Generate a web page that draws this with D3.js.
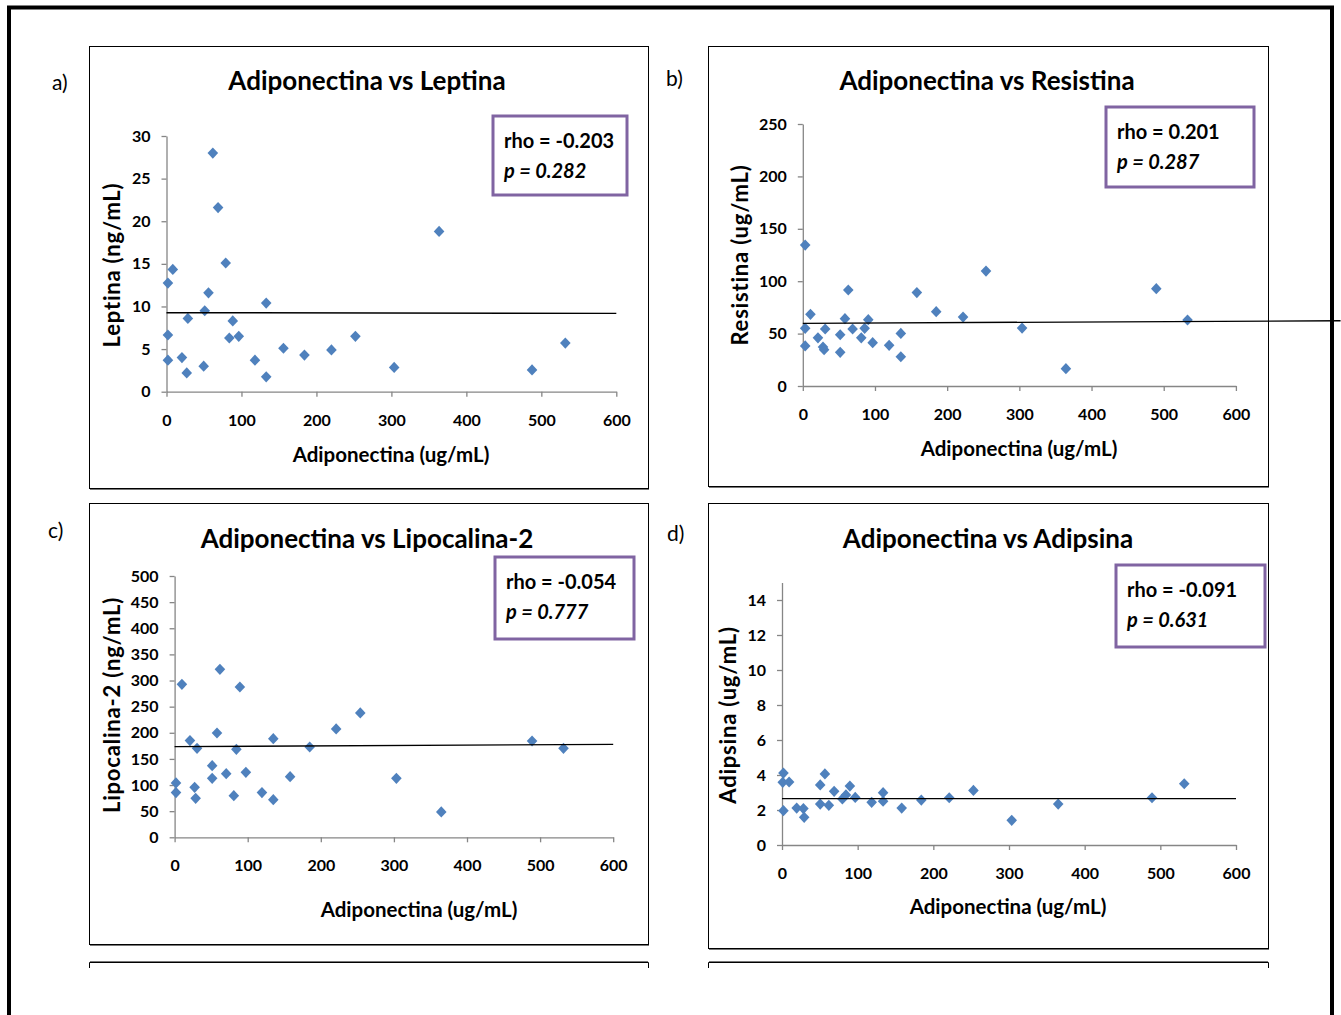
<!DOCTYPE html>
<html>
<head>
<meta charset="utf-8">
<script src="https://cdn.jsdelivr.net/npm/d3@7"></script>
<style>
body { margin: 0; background: #fff; }
svg { display: block; }
text { font-family: Lato, "Open Sans", sans-serif; fill: #000; }
</style>
</head>
<body>
<div id="rootDiv"></div>
<script>
const width = 1341
const height = 1015

// x: Adiponectina (ug/mL)
const leptinaX = [61.8, 68.8, 8.4, 1.9, 79, 56, 133, 51, 28.5, 88.4, 1.9, 83.8, 96.4, 252, 532, 156, 220, 184, 20.6, 1.9, 118, 49.6, 303.7, 27, 133, 487.6, 363.6]
const leptinaY = [28.0, 21.6, 14.35, 12.75, 15.1, 11.6, 10.4, 9.5, 8.6, 8.3, 6.65, 6.3, 6.5, 6.5, 5.7, 5.1, 4.9, 4.3, 4.0, 3.7, 3.7, 3.0, 2.85, 2.2, 1.75, 2.55, 18.8]

const resistinaX = [3.3, 10.6, 3.3, 3.3, 21, 31, 28, 29.5, 51.8, 51.8, 58.4, 63, 69, 81, 85.7, 90.7, 96.8, 119.6, 135.8, 135.8, 158, 184.8, 222, 253.8, 303.8, 364.5, 489.7, 533]
const resistinaY = [134.5, 68.4, 55, 38.2, 46, 54.4, 37.2, 34.7, 32.1, 48.9, 64.2, 91.6, 54.4, 46, 55, 63.3, 41.3, 38.8, 50.2, 27.9, 89.1, 70.9, 65.8, 109.7, 55.3, 16.5, 92.9, 63]

const lipocalinaX = [10, 62, 89.3, 254, 221, 21, 58, 135, 30.7, 84.5, 184.8, 489, 532, 51.4, 70.6, 97.5, 51.4, 158, 303.4, 1.9, 1.9, 27.4, 28.8, 81, 119.5, 135, 364.8]
const lipocalinaY = [292.7, 321.4, 287.6, 237.9, 207.3, 185, 199.6, 188.8, 170.3, 168.4, 172.8, 184.3, 170.3, 137.1, 121.8, 124.4, 112.9, 116.1, 112.9, 104, 85.5, 95.7, 74.6, 79.7, 85.5, 72, 48.5]

const adipsinaX = [1.9, 1, 9.4, 1.9, 19.4, 28.3, 29.3, 50.5, 50.5, 56.7, 61.9, 68.9, 79.8, 84.5, 89.7, 96.8, 118.5, 133.6, 133.6, 158.2, 184.1, 221, 253, 303.6, 365, 489, 531.6]
const adipsinaY = [4.11, 3.58, 3.6, 1.96, 2.11, 2.08, 1.58, 3.43, 2.34, 4.06, 2.27, 3.07, 2.63, 2.86, 3.37, 2.72, 2.44, 2.99, 2.5, 2.11, 2.57, 2.7, 3.12, 1.41, 2.34, 2.7, 3.5]

// trend lines: [x0, x1] and [y0, y1] (panel b runs past its frame in the original)
const trendX = [[0, 600], [0, 745], [0, 600], [0, 600]]
const trendY = [[9.27, 9.19], [59.8, 62.2], [173.5, 177.9], [2.65, 2.65]]

const tags = ["a)", "b)", "c)", "d)"]
const titles = ["Adiponectina vs Leptina", "Adiponectina vs Resistina", "Adiponectina vs Lipocalina-2", "Adiponectina vs Adipsina"]
const yLabels = ["Leptina (ng/mL)", "Resistina (ug/mL)", "Lipocalina-2 (ng/mL)", "Adipsina (ug/mL)"]
const xLabel = "Adiponectina (ug/mL)"
const rhoValues = ["-0.203", "0.201", "-0.054", "-0.091"]
const pValues = ["0.282", "0.287", "0.777", "0.631"]
const yMax = [30, 250, 500, 15]
const yTicks = [d3.range(0, 31, 5), d3.range(0, 251, 50), d3.range(0, 501, 50), d3.range(0, 15, 2)]
const xTicks = d3.range(0, 601, 100)

const blue = "#4F81BD"
const purple = "#8064A2"
const axisGrey = "#868686"

// where each panel sits on the page
const layout = [
    { frame: [89, 46, 559, 442], xr: [166.5, 616.3], yr: [391.7, 136], tag: [52, 90], title: [367, 90], box: [493, 116, 134, 79], xlab: [391, 462], ylab: [120, 265] },
    { frame: [708, 46, 560, 440], xr: [802.8, 1235.9], yr: [386, 124], tag: [666, 86], title: [987, 90], box: [1106, 107, 148, 80], xlab: [1019, 456], ylab: [748, 255] },
    { frame: [89, 503, 559, 441], xr: [174.6, 613.2], yr: [837.3, 576], tag: [48, 538], title: [367, 548], box: [495, 557, 139, 82], xlab: [419, 917], ylab: [120, 705] },
    { frame: [708, 503, 560, 445], xr: [782, 1236], yr: [845, 582.5], tag: [667, 541], title: [988, 548], box: [1116, 565, 149, 82], xlab: [1008, 914], ylab: [736, 715] },
]

const panelData = [
    [leptinaX, leptinaY],
    [resistinaX, resistinaY],
    [lipocalinaX, lipocalinaY],
    [adipsinaX, adipsinaY],
]

const svg = d3.select("#rootDiv")
    .append("svg")
    .attr("width", width)
    .attr("height", height)

svg.append("rect").attr("width", width).attr("height", height).attr("fill", "#fff")

// panel frames
function drawFrame(x, y, w, h) {
    svg.append("rect")
        .attr("x", x + 0.5).attr("y", y + 0.5)
        .attr("width", w).attr("height", h)
        .attr("fill", "#fff")
        .attr("stroke", "#000")
        .attr("stroke-width", 1)
    svg.append("line")
        .attr("x1", x + 1).attr("x2", x + w + 1)
        .attr("y1", y + h + 1.5).attr("y2", y + h + 1.5)
        .attr("stroke", "#777")
        .attr("stroke-width", 1.2)
}
layout.forEach(l => drawFrame(...l.frame))

// tops of the next row of frames, cut off in the original
for (const [x, w] of [[89, 559], [708, 560]]) {
    svg.append("path")
        .attr("d", `M${x + 0.5},968V962.5H${x + w + 0.5}V968`)
        .attr("fill", "none")
        .attr("stroke", "#000")
        .attr("stroke-width", 1)
    svg.append("line")
        .attr("x1", x + 1).attr("x2", x + w)
        .attr("y1", 961.5).attr("y2", 961.5)
        .attr("stroke", "#777")
        .attr("stroke-width", 1)
}

const diamond = "M0,-5.6L5.3,0L0,5.6L-5.3,0Z"

function drawPanel(i) {
    const l = layout[i]
    const [xs, ys] = panelData[i]

    const x = d3.scaleLinear().domain([0, 600]).range(l.xr)
    const y = d3.scaleLinear().domain([0, yMax[i]]).range(l.yr)
    const g = svg.append("g")

    // tag a) b) ...
    g.append("text")
        .attr("x", l.tag[0]).attr("y", l.tag[1])
        .style("font-size", "21px")
        .text(tags[i])

    g.append("text")
        .attr("x", l.title[0]).attr("y", l.title[1])
        .attr("text-anchor", "middle")
        .style("font-size", "26px").style("font-weight", "bold")
        .text(titles[i])

    // axes
    const xAxis = g.append("g")
        .attr("transform", `translate(0,${l.yr[0]})`)
        .call(d3.axisBottom(x).tickValues(xTicks).tickSize(5).tickSizeOuter(0).tickFormat(d3.format("d")))
    const yAxis = g.append("g")
        .attr("transform", `translate(${l.xr[0]},0)`)
        .call(d3.axisLeft(y).tickValues(yTicks[i]).tickSize(5).tickSizeOuter(0).tickFormat(d3.format("d")))

    for (const ax of [xAxis, yAxis]) {
        ax.select(".domain").attr("stroke", axisGrey).attr("stroke-width", 1.3)
        ax.selectAll(".tick line").attr("stroke", axisGrey).attr("stroke-width", 1.3)
        ax.selectAll(".tick text")
            .style("font-family", "Lato, sans-serif")
            .style("font-size", "16px")
            .style("font-weight", "bold")
            .attr("fill", "#000")
    }
    xAxis.selectAll(".tick text").attr("y", 0).attr("dy", 0).attr("transform", "translate(0,34)")
    yAxis.selectAll(".tick text").attr("x", -16)

    // axis titles
    g.append("text")
        .attr("x", l.xlab[0]).attr("y", l.xlab[1])
        .attr("text-anchor", "middle")
        .style("font-size", "20.5px").style("font-weight", "bold")
        .text(xLabel)

    g.append("text")
        .attr("transform", `translate(${l.ylab[0]},${l.ylab[1]}) rotate(-90)`)
        .attr("text-anchor", "middle")
        .style("font-size", "22px").style("font-weight", "bold")
        .style("letter-spacing", "0.8px")
        .text(yLabels[i])

    // points
    g.append("g").selectAll("path")
        .data(xs.map((v, j) => [v, ys[j]]))
        .join("path")
        .attr("d", diamond)
        .attr("transform", d => `translate(${x(d[0])},${y(d[1])})`)
        .attr("fill", blue)

    // trend line
    g.append("line")
        .attr("x1", x(trendX[i][0])).attr("x2", x(trendX[i][1]))
        .attr("y1", y(trendY[i][0])).attr("y2", y(trendY[i][1]))
        .attr("stroke", "#000")
        .attr("stroke-width", 1.4)

    // rho / p box
    const [bx, by, bw, bh] = l.box
    g.append("rect")
        .attr("x", bx).attr("y", by).attr("width", bw).attr("height", bh)
        .attr("fill", "#fff")
        .attr("stroke", purple)
        .attr("stroke-width", 3)
    g.append("text")
        .attr("x", bx + 11).attr("y", by + 32)
        .style("font-size", "20px").style("font-weight", "bold")
        .text(`rho = ${rhoValues[i]}`)
    g.append("text")
        .attr("x", bx + 11).attr("y", by + 62)
        .style("font-size", "20px").style("font-weight", "bold").style("font-style", "italic")
        .text(`p = ${pValues[i]}`)
}

for (let i = 0; i < 4; i++) drawPanel(i)

// outer page border
svg.append("rect")
    .attr("x", 9).attr("y", 7.5)
    .attr("width", 1323).attr("height", 1100)
    .attr("fill", "none")
    .attr("stroke", "#000")
    .attr("stroke-width", 4)
</script>
</body>
</html>
